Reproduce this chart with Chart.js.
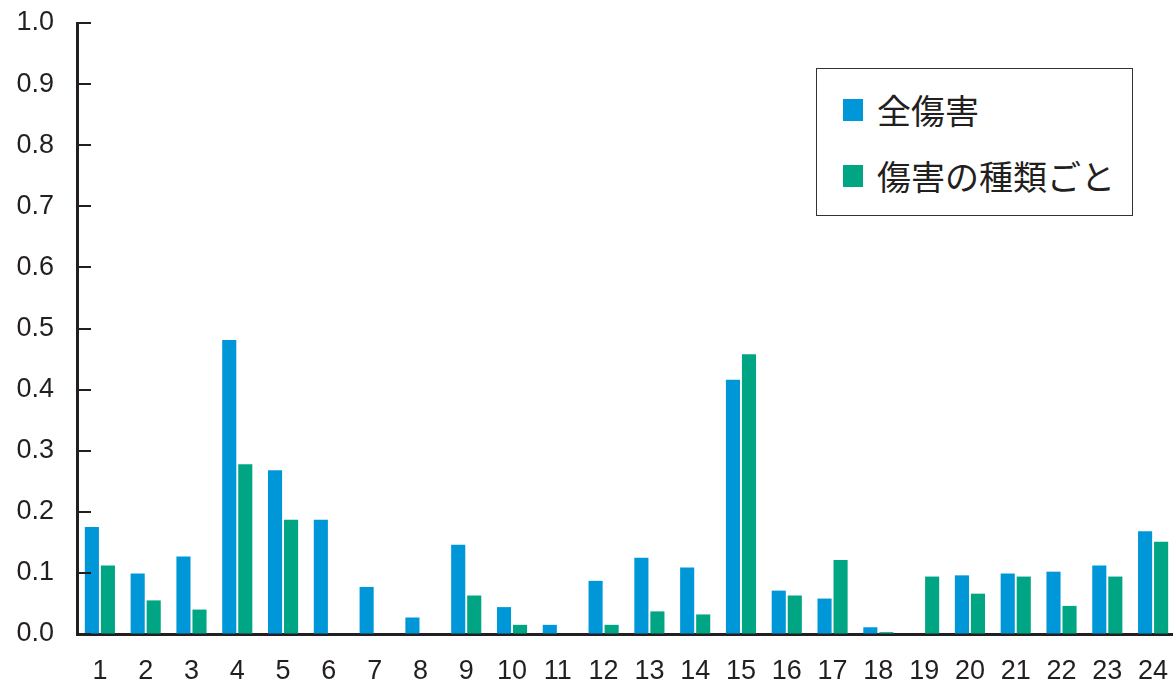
<!DOCTYPE html>
<html>
<head>
<meta charset="utf-8">
<script src="https://cdn.jsdelivr.net/npm/chart.js@4/dist/chart.umd.min.js"></script>
<style>
  html, body { margin: 0; padding: 0; background: #fff; overflow: hidden; }
  #wrap { position: relative; width: 1173px; height: 682px; overflow: hidden; }
  #c { position: absolute; left: 0; top: 0; }
  #legend {
    position: absolute; left: 816px; top: 68px; width: 317px; height: 148px;
    border: 1px solid #333; background: #fff; box-sizing: border-box;
    font-family: "Noto Sans CJK JP", sans-serif; font-size: 34px; color: #231f20;
  }
  .item { position: absolute; left: 26px; height: 34px; line-height: 34px; display: flex; align-items: center; white-space: nowrap; }
  .sw { width: 20px; height: 22px; margin-right: 14px; flex: none; }
</style>
</head>
<body>
<div id="wrap">
  <canvas id="c" width="1176" height="682"></canvas>
  <div id="legend"></div>
</div>
<script>
const categories = ["1","2","3","4","5","6","7","8","9","10","11","12","13","14","15","16","17","18","19","20","21","22","23","24"];
const seriesNames = ["全傷害", "傷害の種類ごと"];
const allInjury = [0.175,0.099,0.127,0.481,0.268,0.187,0.077,0.027,0.146,0.044,0.015,0.087,0.125,0.109,0.416,0.071,0.058,0.011,0,0.096,0.099,0.102,0.112,0.168];
const byType   = [0.112,0.055,0.040,0.278,0.187,0,0,0,0.063,0.015,0,0.015,0.037,0.032,0.458,0.063,0.121,0.003,0.094,0.066,0.094,0.046,0.094,0.151];
const yTicks = [0,0.1,0.2,0.3,0.4,0.5,0.6,0.7,0.8,0.9,1.0];
const colors = ["#0097d9", "#00a683"];

// HTML legend
const leg = document.getElementById('legend');
seriesNames.forEach((n, i) => {
  const d = document.createElement('div');
  d.className = 'item';
  d.style.top = (i === 0 ? 24 : 90) + 'px';
  d.innerHTML = '<span class="sw" style="background:' + colors[i] + '"></span><span>' + n + '</span>';
  leg.appendChild(d);
});

const innerTicks = {
  id: 'innerTicks',
  afterDraw(chart) {
    const y = chart.scales.y, ctx = chart.ctx;
    const left = chart.chartArea.left;
    ctx.save();
    ctx.strokeStyle = '#231f20';
    ctx.lineWidth = 2;
    yTicks.forEach(v => {
      const py = Math.round(y.getPixelForValue(v));
      ctx.beginPath();
      ctx.moveTo(left, py);
      ctx.lineTo(left + 14, py);
      ctx.stroke();
    });
    ctx.restore();
  }
};

new Chart(document.getElementById('c'), {
  type: 'bar',
  data: {
    labels: categories,
    datasets: [
      { label: seriesNames[0], data: allInjury, backgroundColor: colors[0] },
      { label: seriesNames[1], data: byType, backgroundColor: colors[1] }
    ]
  },
  options: {
    responsive: false,
    animation: false,
    events: [],
    layout: { padding: { top: 23, right: 0, left: 0, bottom: 0 } },
    plugins: { legend: { display: false }, tooltip: { enabled: false } },
    datasets: { bar: { categoryPercentage: 0.7, barPercentage: 0.88 } },
    scales: {
      x: {
        grid: { display: false, drawTicks: false },
        border: { display: true, color: '#231f20', width: 3 },
        ticks: { color: '#231f20', font: { family: 'Liberation Sans, Arial', size: 27 }, padding: 21, maxRotation: 0, autoSkip: false },
        afterFit: s => { s.height = 48; s.paddingLeft = 0; s.paddingRight = 0; }
      },
      y: {
        min: 0, max: 1.0,
        afterBuildTicks: s => { s.ticks = yTicks.map(v => ({ value: v })); },
        grid: { display: true, drawOnChartArea: false, drawTicks: false },
        border: { display: true, color: '#231f20', width: 3 },
        ticks: { color: '#231f20', font: { family: 'Liberation Sans, Arial', size: 27 }, padding: 23,
                 callback: v => Number(v).toFixed(1) },
        afterFit: s => { s.width = 77; s.paddingTop = 0; s.paddingBottom = 0; }
      }
    }
  },
  plugins: [innerTicks]
});
</script>
</body>
</html>
